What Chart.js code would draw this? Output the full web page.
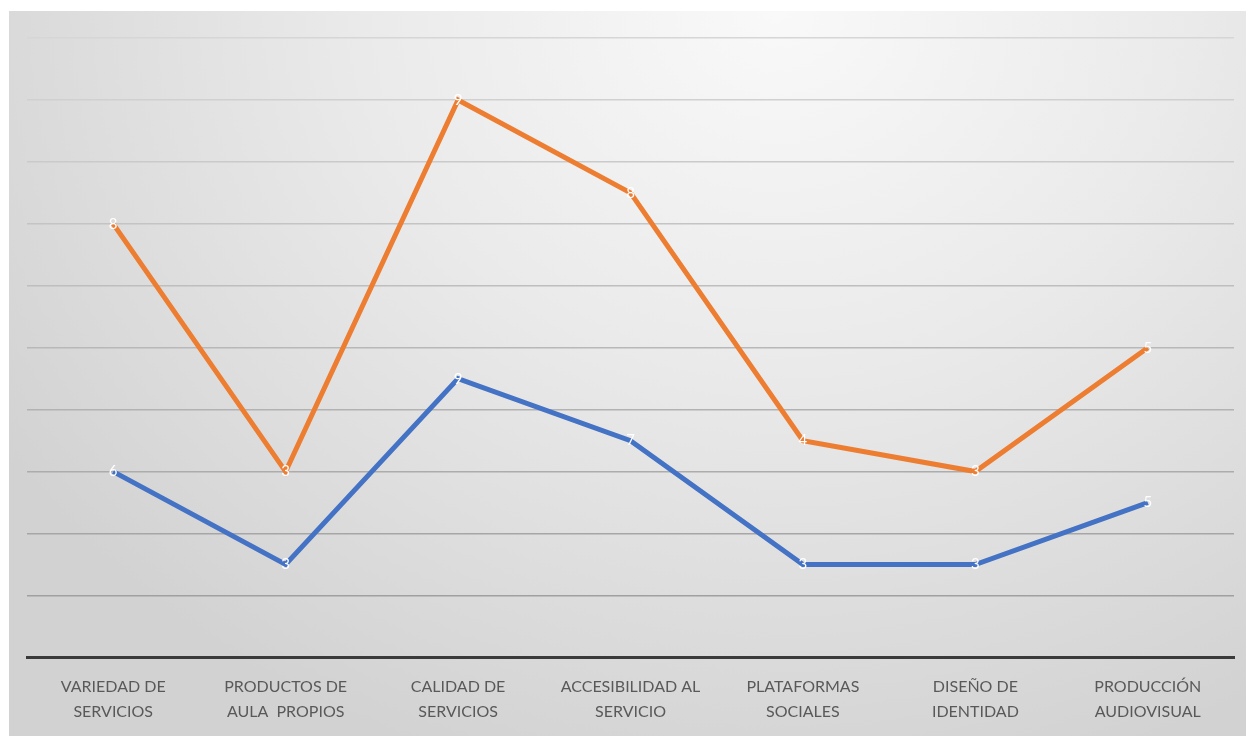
<!DOCTYPE html>
<html>
<head>
<meta charset="utf-8">
<script src="https://cdn.jsdelivr.net/npm/chart.js@4"></script>
<style>
	html, body { margin: 0; padding: 0; background: #ffffff; }
	#panel {
		position: absolute; left: 9px; top: 11px; width: 1237px; height: 725px;
		background: radial-gradient(ellipse 75% 110% at 62% 0%, #f9f9f9 0%, #eaeaea 45%, #d2d2d2 100%);
	}
</style>
</head>
<body>
<div id="panel"><canvas id="chartLines"></canvas></div>
<script>
var categories = [
	["VARIEDAD DE", "SERVICIOS"],
	["PRODUCTOS DE", "AULA  PROPIOS"],
	["CALIDAD DE", "SERVICIOS"],
	["ACCESIBILIDAD AL", "SERVICIO"],
	["PLATAFORMAS", "SOCIALES"],
	["DISEÑO DE", "IDENTIDAD"],
	["PRODUCCIÓN", "AUDIOVISUAL"]
];
var seriesBlue   = [6, 3, 9, 7, 3, 3, 5];
var seriesOrange = [8, 3, 9, 8, 4, 3, 5];

// white value labels drawn on each point
var valueLabels = {
	id: "valueLabels",
	afterDatasetsDraw: function(chart) {
		var ctx = chart.ctx;
		ctx.save();
		ctx.font = "15px Lato";
		ctx.fillStyle = "#ffffff";
		ctx.textAlign = "center";
		ctx.textBaseline = "middle";
		chart.data.datasets.forEach(function(ds, i) {
			chart.getDatasetMeta(i).data.forEach(function(pt, j) {
				ctx.fillText(String(ds.data[j]), pt.x, pt.y);
			});
		});
		ctx.restore();
	}
};

// gridlines fade out toward the top
function gridColor(c) {
	var v = c.tick.value;
	if (v === 0) return "rgba(0,0,0,0)";
	var g = Math.round(160 + (v - 2) * 3);
	return "rgb(" + g + "," + g + "," + g + ")";
}

var chart = new Chart(document.getElementById("chartLines"), {
	type: "line",
	data: {
		labels: categories,
		datasets: [
			{ data: seriesBlue, borderColor: "#4472C4", borderWidth: 5, pointRadius: 0, fill: false, tension: 0 },
			{ data: seriesOrange, borderColor: "#ED7D31", borderWidth: 5, pointRadius: 0, fill: false, tension: 0 }
		]
	},
	plugins: [valueLabels],
	options: {
		responsive: true,
		maintainAspectRatio: false,
		animation: false,
		layout: { padding: { left: 18, right: 12, top: 27, bottom: 3 } },
		plugins: { legend: { display: false }, tooltip: { enabled: false } },
		scales: {
			x: {
				offset: true,
				grid: { display: false },
				border: { display: true, color: "#3a3a3a", width: 3 },
				ticks: { color: "#595959", font: { family: "Lato", size: 16, lineHeight: 1.55 }, padding: 9, maxRotation: 0 }
			},
			y: {
				stacked: true,
				min: 0, max: 20,
				ticks: { display: false, stepSize: 2 },
				border: { display: false },
				grid: { color: gridColor, lineWidth: 1.5, drawTicks: false }
			}
		}
	}
});
</script>
</body>
</html>
